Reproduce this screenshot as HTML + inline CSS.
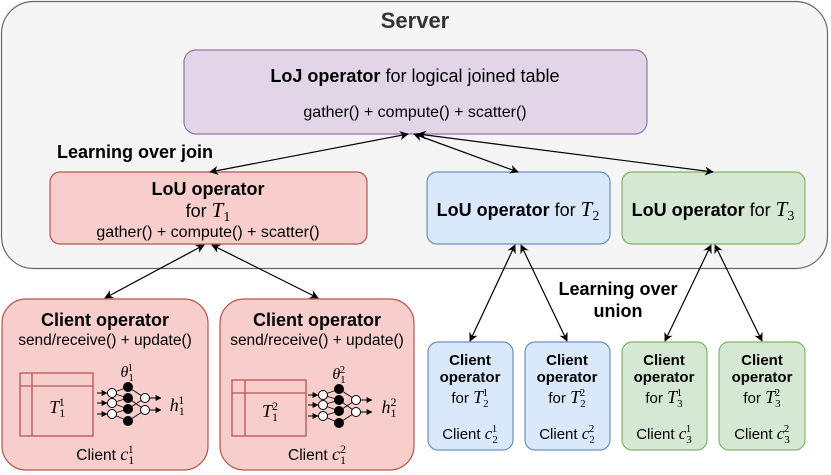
<!DOCTYPE html>
<html><head><meta charset="utf-8"><style>
html,body{margin:0;padding:0;background:#fff;}
svg{display:block;font-family:"Liberation Sans",sans-serif;}
.m{font-family:"Liberation Serif",serif;font-style:italic;}
.n{font-family:"Liberation Serif",serif;}
</style></head><body>
<svg width="831" height="475" viewBox="0 0 831 475" xmlns="http://www.w3.org/2000/svg">
<defs>
<marker id="a" viewBox="0 0 10 10" refX="9" refY="5" markerWidth="9" markerHeight="9" orient="auto-start-reverse" markerUnits="userSpaceOnUse"><path d="M0,0 L10,5 L0,10 L3,5 z" fill="#000"/></marker>
<marker id="s" viewBox="0 0 10 10" refX="9" refY="5" markerWidth="6" markerHeight="6" orient="auto" markerUnits="userSpaceOnUse"><path d="M0,0 L10,5 L0,10 z" fill="#000"/></marker>
<g id="nn">
<g stroke="#000" stroke-width="0.8" fill="none">
<path d="M112,393 L128,387 M112,393 L128,398 M112,403 L128,398 M112,403 L128,409 M112,414 L128,409 M112,414 L128,421 M128,387 L145,398 M128,398 L145,410 M128,409 L145,398 M128,421 L145,410"/>
</g>
<g stroke="#000" stroke-width="1">
<line x1="97" y1="393" x2="107" y2="393" marker-end="url(#s)"/>
<line x1="97" y1="403" x2="107" y2="403" marker-end="url(#s)"/>
<line x1="97" y1="414" x2="107" y2="414" marker-end="url(#s)"/>
<line x1="150" y1="398" x2="161" y2="398" marker-end="url(#s)"/>
<line x1="150" y1="410" x2="161" y2="410" marker-end="url(#s)"/>
</g>
<g stroke="#000" stroke-width="1">
<circle cx="112" cy="393" r="4.5" fill="#fff"/><circle cx="112" cy="403" r="4.5" fill="#fff"/><circle cx="112" cy="414" r="4.5" fill="#fff"/>
<circle cx="128" cy="387" r="4.5" fill="#000"/><circle cx="128" cy="398" r="4.5" fill="#000"/><circle cx="128" cy="409" r="4.5" fill="#000"/><circle cx="128" cy="421" r="4.5" fill="#000"/>
<circle cx="145" cy="398" r="4.5" fill="#fff"/><circle cx="145" cy="410" r="4.5" fill="#fff"/>
</g>
</g>
</defs>
<rect x="1.5" y="1.5" width="826" height="267" rx="32" fill="#f5f5f5" stroke="#666" stroke-width="1.2"/>
<text x="415" y="28" text-anchor="middle" font-size="22" font-weight="bold" fill="#333">Server</text>

<rect x="184" y="50" width="463" height="84" rx="12" fill="#e1d5e7" stroke="#9673a6" stroke-width="1.2"/>
<text x="415" y="82" text-anchor="middle" font-size="18"><tspan font-weight="bold">LoJ operator</tspan> for logical joined table</text>
<text x="415" y="117" text-anchor="middle" font-size="16">gather() + compute() + scatter()</text>

<text x="57" y="158" font-size="18" font-weight="bold">Learning over join</text>

<rect x="50" y="172" width="317" height="72" rx="10" fill="#f8cecc" stroke="#b85450" stroke-width="1.2"/>
<text x="208" y="195" text-anchor="middle" font-size="18" font-weight="bold">LoU operator</text>
<text x="208" y="217" text-anchor="middle" font-size="18">for <tspan class="m" font-size="21">T</tspan><tspan class="n" font-size="14" dy="4">1</tspan></text>
<text x="208" y="237" text-anchor="middle" font-size="16">gather() + compute() + scatter()</text>

<rect x="427" y="172" width="183" height="72" rx="10" fill="#dae8fc" stroke="#6c8ebf" stroke-width="1.2"/>
<text x="518" y="216" text-anchor="middle" font-size="18"><tspan font-weight="bold">LoU operator</tspan> for <tspan class="m" font-size="21">T</tspan><tspan class="n" font-size="14" dy="4">2</tspan></text>
<rect x="622" y="172" width="183" height="72" rx="10" fill="#d5e8d4" stroke="#82b366" stroke-width="1.2"/>
<text x="713" y="216" text-anchor="middle" font-size="18"><tspan font-weight="bold">LoU operator</tspan> for <tspan class="m" font-size="21">T</tspan><tspan class="n" font-size="14" dy="4">3</tspan></text>

<g stroke="#000" stroke-width="1.2" fill="none">
<line x1="408" y1="134" x2="210" y2="172" marker-start="url(#a)" marker-end="url(#a)"/>
<line x1="414" y1="134" x2="518" y2="172" marker-start="url(#a)" marker-end="url(#a)"/>
<line x1="418" y1="134" x2="713" y2="172" marker-start="url(#a)" marker-end="url(#a)"/>
<line x1="204" y1="245" x2="105" y2="298" marker-start="url(#a)" marker-end="url(#a)"/>
<line x1="212" y1="245" x2="318" y2="298" marker-start="url(#a)" marker-end="url(#a)"/>
<line x1="515" y1="245" x2="470" y2="341" marker-start="url(#a)" marker-end="url(#a)"/>
<line x1="521" y1="245" x2="567" y2="341" marker-start="url(#a)" marker-end="url(#a)"/>
<line x1="711" y1="245" x2="665" y2="341" marker-start="url(#a)" marker-end="url(#a)"/>
<line x1="715" y1="245" x2="762" y2="341" marker-start="url(#a)" marker-end="url(#a)"/>
</g>

<text x="618" y="295" text-anchor="middle" font-size="18" font-weight="bold">Learning over</text>
<text x="618" y="317" text-anchor="middle" font-size="18" font-weight="bold">union</text>

<!-- big clients -->
<rect x="2" y="299" width="206" height="171" rx="24" fill="#f8cecc" stroke="#b85450" stroke-width="1.2"/>
<text x="105" y="326" text-anchor="middle" font-size="18" font-weight="bold">Client operator</text>
<text x="105" y="345" text-anchor="middle" font-size="15.5">send/receive() + update()</text>
<g fill="none" stroke="#b85450" stroke-width="1.3"><rect x="20" y="373" width="73" height="63"/><line x1="32" y1="373" x2="32" y2="436"/><line x1="20" y1="386" x2="93" y2="386"/></g>
<text x="57" y="413" text-anchor="middle" font-size="18"><tspan class="m">T</tspan><tspan class="n" font-size="12" dy="4">1</tspan><tspan class="n" font-size="12" dx="-6" dy="-11">1</tspan></text>
<use href="#nn"/>
<text x="127" y="377" text-anchor="middle" font-size="16"><tspan class="m">θ</tspan><tspan class="n" font-size="11" dy="4">1</tspan><tspan class="n" font-size="11" dx="-6" dy="-10">1</tspan></text>
<text x="177" y="411" text-anchor="middle" font-size="18"><tspan class="m">h</tspan><tspan class="n" font-size="12" dy="4">1</tspan><tspan class="n" font-size="12" dx="-6" dy="-11">1</tspan></text>
<text x="105" y="460" text-anchor="middle" font-size="15.5">Client <tspan class="m" font-size="18">c</tspan><tspan class="n" font-size="12" dy="4">1</tspan><tspan class="n" font-size="12" dx="-6" dy="-11">1</tspan></text>

<rect x="220" y="299" width="194" height="171" rx="24" fill="#f8cecc" stroke="#b85450" stroke-width="1.2"/>
<text x="317" y="326" text-anchor="middle" font-size="18" font-weight="bold">Client operator</text>
<text x="317" y="345" text-anchor="middle" font-size="15.5">send/receive() + update()</text>
<g fill="none" stroke="#b85450" stroke-width="1.3"><rect x="232" y="380" width="74" height="56"/><line x1="245" y1="380" x2="245" y2="436"/><line x1="232" y1="393" x2="306" y2="393"/></g>
<text x="270" y="417" text-anchor="middle" font-size="18"><tspan class="m">T</tspan><tspan class="n" font-size="12" dy="4">1</tspan><tspan class="n" font-size="12" dx="-6" dy="-11">2</tspan></text>
<use href="#nn" transform="translate(211,2)"/>
<text x="339" y="379" text-anchor="middle" font-size="16"><tspan class="m">θ</tspan><tspan class="n" font-size="11" dy="4">1</tspan><tspan class="n" font-size="11" dx="-6" dy="-10">2</tspan></text>
<text x="389" y="413" text-anchor="middle" font-size="18"><tspan class="m">h</tspan><tspan class="n" font-size="12" dy="4">1</tspan><tspan class="n" font-size="12" dx="-6" dy="-11">2</tspan></text>
<text x="317" y="460" text-anchor="middle" font-size="15.5">Client <tspan class="m" font-size="18">c</tspan><tspan class="n" font-size="12" dy="4">1</tspan><tspan class="n" font-size="12" dx="-6" dy="-11">2</tspan></text>

<!-- small clients -->
<g font-size="15">
<rect x="428" y="342" width="85" height="108" rx="10" fill="#dae8fc" stroke="#6c8ebf" stroke-width="1.2"/>
<text x="470" y="365" text-anchor="middle" font-weight="bold">Client</text><text x="470" y="382" text-anchor="middle" font-weight="bold">operator</text>
<text x="470" y="403" text-anchor="middle">for <tspan class="m" font-size="18">T</tspan><tspan class="n" font-size="11" dy="4">2</tspan><tspan class="n" font-size="11" dx="-6" dy="-11">1</tspan></text>
<text x="470" y="439" text-anchor="middle">Client <tspan class="m" font-size="17">c</tspan><tspan class="n" font-size="11" dy="4">2</tspan><tspan class="n" font-size="11" dx="-6" dy="-11">1</tspan></text>

<rect x="525" y="342" width="85" height="108" rx="10" fill="#dae8fc" stroke="#6c8ebf" stroke-width="1.2"/>
<text x="567" y="365" text-anchor="middle" font-weight="bold">Client</text><text x="567" y="382" text-anchor="middle" font-weight="bold">operator</text>
<text x="567" y="403" text-anchor="middle">for <tspan class="m" font-size="18">T</tspan><tspan class="n" font-size="11" dy="4">2</tspan><tspan class="n" font-size="11" dx="-6" dy="-11">2</tspan></text>
<text x="567" y="439" text-anchor="middle">Client <tspan class="m" font-size="17">c</tspan><tspan class="n" font-size="11" dy="4">2</tspan><tspan class="n" font-size="11" dx="-6" dy="-11">2</tspan></text>

<rect x="622" y="342" width="85" height="108" rx="10" fill="#d5e8d4" stroke="#82b366" stroke-width="1.2"/>
<text x="664" y="365" text-anchor="middle" font-weight="bold">Client</text><text x="664" y="382" text-anchor="middle" font-weight="bold">operator</text>
<text x="664" y="403" text-anchor="middle">for <tspan class="m" font-size="18">T</tspan><tspan class="n" font-size="11" dy="4">3</tspan><tspan class="n" font-size="11" dx="-6" dy="-11">1</tspan></text>
<text x="664" y="439" text-anchor="middle">Client <tspan class="m" font-size="17">c</tspan><tspan class="n" font-size="11" dy="4">3</tspan><tspan class="n" font-size="11" dx="-6" dy="-11">1</tspan></text>

<rect x="719" y="342" width="86" height="108" rx="10" fill="#d5e8d4" stroke="#82b366" stroke-width="1.2"/>
<text x="762" y="365" text-anchor="middle" font-weight="bold">Client</text><text x="762" y="382" text-anchor="middle" font-weight="bold">operator</text>
<text x="762" y="403" text-anchor="middle">for <tspan class="m" font-size="18">T</tspan><tspan class="n" font-size="11" dy="4">3</tspan><tspan class="n" font-size="11" dx="-6" dy="-11">2</tspan></text>
<text x="762" y="439" text-anchor="middle">Client <tspan class="m" font-size="17">c</tspan><tspan class="n" font-size="11" dy="4">3</tspan><tspan class="n" font-size="11" dx="-6" dy="-11">2</tspan></text>
</g>
</svg>
</body></html>
